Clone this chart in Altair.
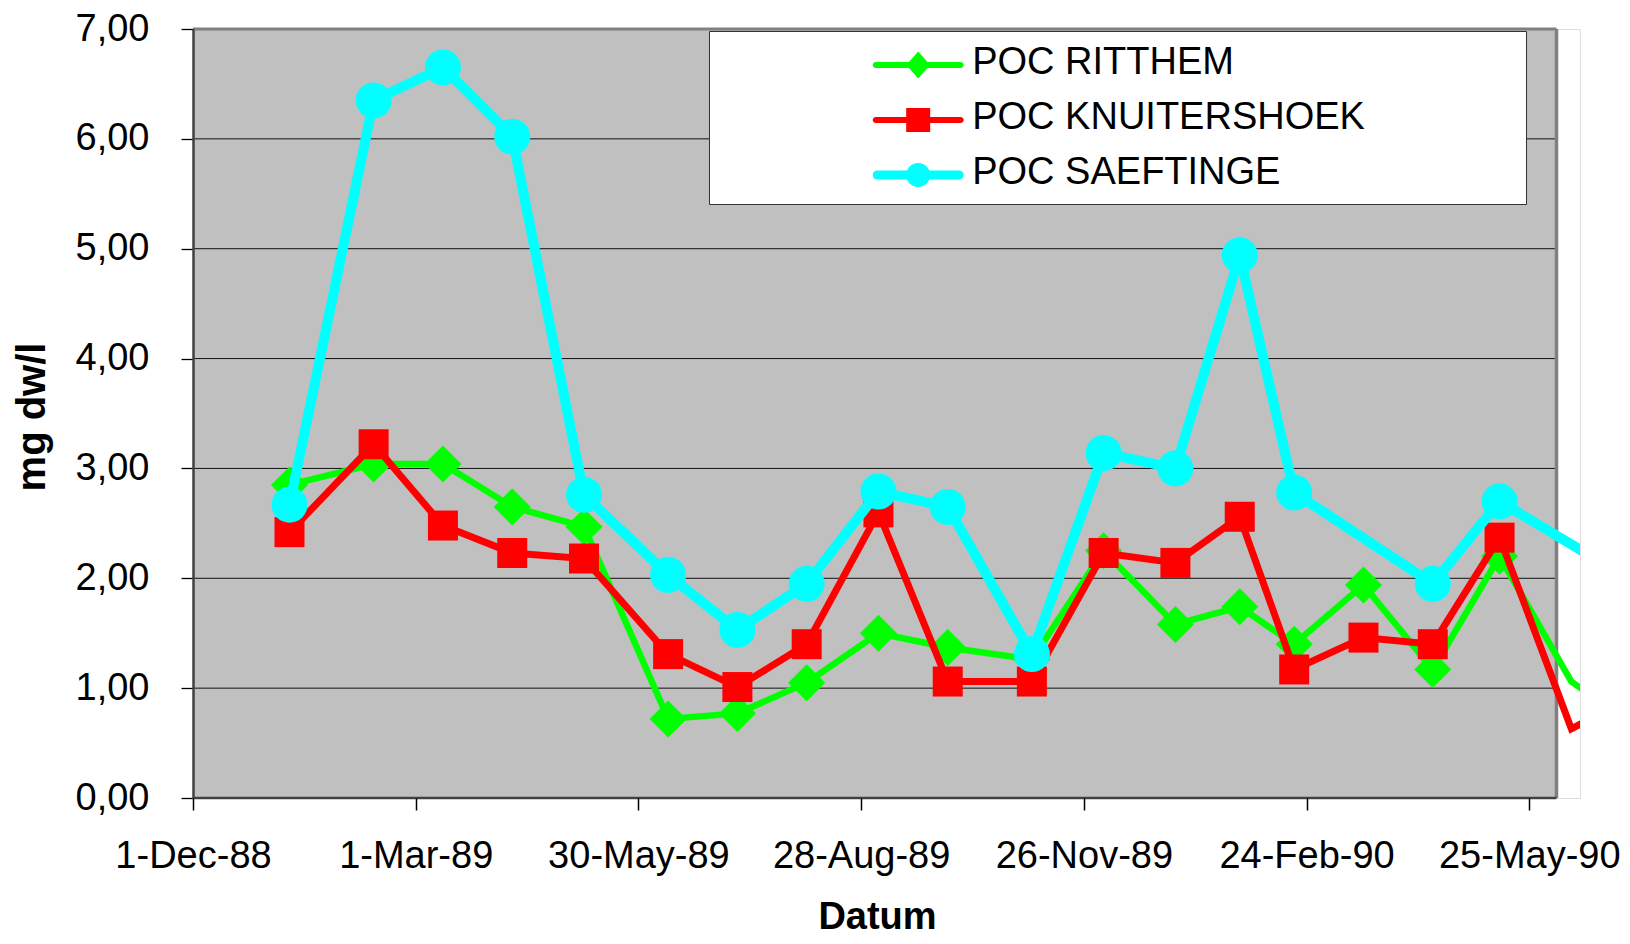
import altair as alt
import pandas as pd

# ---------------- data ----------------
dates = ["1989-01-09", "1989-02-12", "1989-03-12", "1989-04-09", "1989-05-08",
         "1989-06-11", "1989-07-09", "1989-08-06", "1989-09-04", "1989-10-02",
         "1989-11-05", "1989-12-04", "1990-01-02", "1990-01-28", "1990-02-19",
         "1990-03-19", "1990-04-16", "1990-05-13", "1990-06-11", "1990-07-09"]
ritthem = [2.85, 3.04, 3.04, 2.65, 2.47, 0.72, 0.77, 1.05, 1.50, 1.37,
           1.26, 2.25, 1.58, 1.74, 1.40, 1.94, 1.17, 2.20, 1.06, 0.62]
knuitershoek = [2.42, 3.22, 2.48, 2.23, 2.18, 1.31, 1.01, 1.40, 2.60, 1.06,
                1.06, 2.23, 2.14, 2.56, 1.17, 1.46, 1.40, 2.37, 0.63, 0.96]
saeftinge = [2.67, 6.35, 6.65, 6.02, 2.76, 2.03, 1.53, 1.95, 2.79, 2.65,
             1.31, 3.14, 3.00, 4.94, 2.78, None, 1.95, 2.70, None, 1.93]

series_names = ["POC RITTHEM", "POC KNUITERSHOEK", "POC SAEFTINGE"]
series_values = [ritthem, knuitershoek, saeftinge]
series_colors = ["#00FF00", "#FF0000", "#00FFFF"]

tick_dates = ["1988-12-01", "1989-03-01", "1989-05-30", "1989-08-28",
              "1989-11-26", "1990-02-24", "1990-05-25"]
y_ticks = [0, 1, 2, 3, 4, 5, 6, 7]
axis_start = "1988-12-01"
plot_end = "1990-06-05"

# ---------------- tables ----------------
rows = []
for name, vals in zip(series_names, series_values):
    for d, v in zip(dates, vals):
        if v is not None:
            rows.append({"date": d, "series": name, "value": v,
                         "in_plot": d <= plot_end})
df = pd.DataFrame(rows)

frame_df = pd.DataFrame({"x0": [axis_start], "x1": [plot_end],
                         "y0": [y_ticks[0]], "y1": [y_ticks[-1]]})
grid_df = pd.DataFrame({"x0": axis_start, "x1": plot_end, "y": y_ticks[1:-1]})
top_df = pd.DataFrame({"x0": [axis_start], "x1": [plot_end], "y": [y_ticks[-1]]})
bottom_df = pd.DataFrame({"x0": [axis_start], "x1": [plot_end], "y": [y_ticks[0]]})
right_df = pd.DataFrame({"x": [plot_end], "y0": [y_ticks[0]], "y1": [y_ticks[-1]]})


def dt(s, hours=0):
    y, m, d = (int(p) for p in s.split("-"))
    return alt.DateTime(year=y, month=m, date=d, hours=hours, utc=True)


x_scale = alt.Scale(type="utc", domain=[dt(axis_start), dt("1990-06-14", 12)])
y_scale = alt.Scale(domain=[y_ticks[0], y_ticks[-1]], nice=False, zero=True)

FONT = "Liberation Sans"

x_axis = alt.Axis(
    values=[dt(t) for t in tick_dates],
    labelExpr="utcFormat(datum.value, '%-d-%b-%y')",
    domain=False, grid=False, ticks=True, tickSize=12, tickColor="#000000",
    tickWidth=1.5, labelFontSize=38, labelPadding=27, labelFlush=False,
    labelOverlap=False, labelLimit=1000, labelColor="#000000", labelFont=FONT,
    title="Datum", titleFont=FONT, titleFontSize=38, titleFontWeight="bold",
    titleColor="#000000", titleX=684, titleY=130, titleAlign="center",
    titleBaseline="alphabetic", zindex=1)

y_axis = alt.Axis(
    values=y_ticks, labelExpr="replace(format(datum.value, '.2f'), '.', ',')",
    domain=True, domainColor="#404040", domainWidth=2.5, ticks=True,
    tickSize=12, tickColor="#000000", tickWidth=1.3, grid=False,
    labelFontSize=38, labelPadding=32, labelLimit=1000, labelColor="#000000",
    labelFont=FONT,
    title="mg dw/l", titleFont=FONT, titleFontSize=40, titleFontWeight="bold",
    titleColor="#000000", titleX=-149, titleY=387.5, titleAngle=270,
    titleAlign="center", titleBaseline="alphabetic", zindex=1)


def X(field):
    return alt.X(field, scale=x_scale, axis=x_axis)


def Y(field):
    return alt.Y(field, scale=y_scale, axis=y_axis)


# plot area background
bg = alt.Chart(frame_df).mark_rect(color="#C0C0C0").encode(
    x=X("x0:T"), x2="x1:T", y=Y("y0:Q"), y2="y1:Q")

grid = alt.Chart(grid_df).mark_rule(color="#111111", strokeWidth=1).encode(
    x=X("x0:T"), x2="x1:T", y=Y("y:Q"))

top_border = alt.Chart(top_df).mark_rule(color="#808080", strokeWidth=2.8).encode(
    x=X("x0:T"), x2="x1:T", y=Y("y:Q"))

right_border = alt.Chart(right_df).mark_rule(color="#808080", strokeWidth=3.5).encode(
    x=X("x:T"), y=Y("y0:Q"), y2="y1:Q")

bottom_line = alt.Chart(bottom_df).mark_rule(color="#404040", strokeWidth=2.5).encode(
    x=X("x0:T"), x2="x1:T", y=Y("y:Q"))

shapes = ["diamond", "square", "circle"]
sizes = [1369, 900, 1296]
widths = [6.5, 7, 10]

series_layers = []
for name, color, shp, sz, w in zip(series_names, series_colors, shapes, sizes, widths):
    base = alt.Chart(df).transform_filter(alt.datum.series == name)
    line = base.mark_line(color=color, strokeWidth=w, clip=True).encode(
        x=X("date:T"), y=Y("value:Q"))
    pts = base.transform_filter(alt.datum.in_plot == True).mark_point(
        shape=shp, filled=True, size=sz, color=color, opacity=1,
        strokeWidth=0, clip=True).encode(x=X("date:T"), y=Y("value:Q"))
    series_layers += [line, pts]


# legend symbols: line segment + marker (unit = 12 px)
def fmt(v):
    return ("%.3f" % v).rstrip("0").rstrip(".")


def seg(half_t, dy, half_len=3.79):
    a = half_len - half_t
    return (f"M{fmt(-a)},{fmt(dy - half_t)}H{fmt(a)}"
            f"A{fmt(half_t)},{fmt(half_t)} 0 0 1 {fmt(a)},{fmt(dy + half_t)}"
            f"H{fmt(-a)}A{fmt(half_t)},{fmt(half_t)} 0 0 1 {fmt(-a)},{fmt(dy - half_t)}Z")


DY = 0.2
legend_paths = [
    seg(0.25, DY) + f"M0,{fmt(DY - 1.125)}L1,{fmt(DY)}L0,{fmt(DY + 1.125)}L-1,{fmt(DY)}Z",
    seg(0.25, DY) + f"M-1,{fmt(DY - 1)}H1V{fmt(DY + 1)}H-1Z",
    seg(0.375, DY) + f"M0,{fmt(DY - 1)}A1,1 0 1 1 0,{fmt(DY + 1)}A1,1 0 1 1 0,{fmt(DY - 1)}Z",
]

PAD = "\u00a0" * 14 + "\u200b"
legend_def = alt.Legend(
    orient="none", legendX=516, legendY=2, title=None, padding=12.5,
    fillColor="#FFFFFF", strokeColor="#333333", symbolSize=576,
    symbolStrokeWidth=0, symbolOffset=177.7, labelOffset=35,
    labelFontSize=38, labelFont=FONT, labelColor="#000000", labelLimit=2000,
    rowPadding=17, labelBaseline="middle", symbolOpacity=1,
    labelExpr="datum.label + '" + PAD + "'")

legend_layer = alt.Chart(df).transform_filter("datum.value < -100").mark_point(
    filled=True, opacity=1).encode(
    x=X("date:T"), y=Y("value:Q"),
    color=alt.Color("series:N", scale=alt.Scale(domain=series_names, range=series_colors),
                    legend=legend_def),
    shape=alt.Shape("series:N", scale=alt.Scale(domain=series_names, range=legend_paths),
                    legend=legend_def))

chart = alt.layer(bg, grid, top_border, right_border, bottom_line,
                  *series_layers, legend_layer).properties(
    width=1387, height=769,
    autosize=alt.AutoSizeParams(type="none"),
    padding={"left": 185, "top": 21, "right": 42, "bottom": 138},
    background="#FFFFFF",
).configure_view(stroke="transparent", strokeWidth=0).configure_legend(
    strokeWidth=1.5).configure(font=FONT)

chart.save("out.html", embed_options={"renderer": "svg", "actions": False})
